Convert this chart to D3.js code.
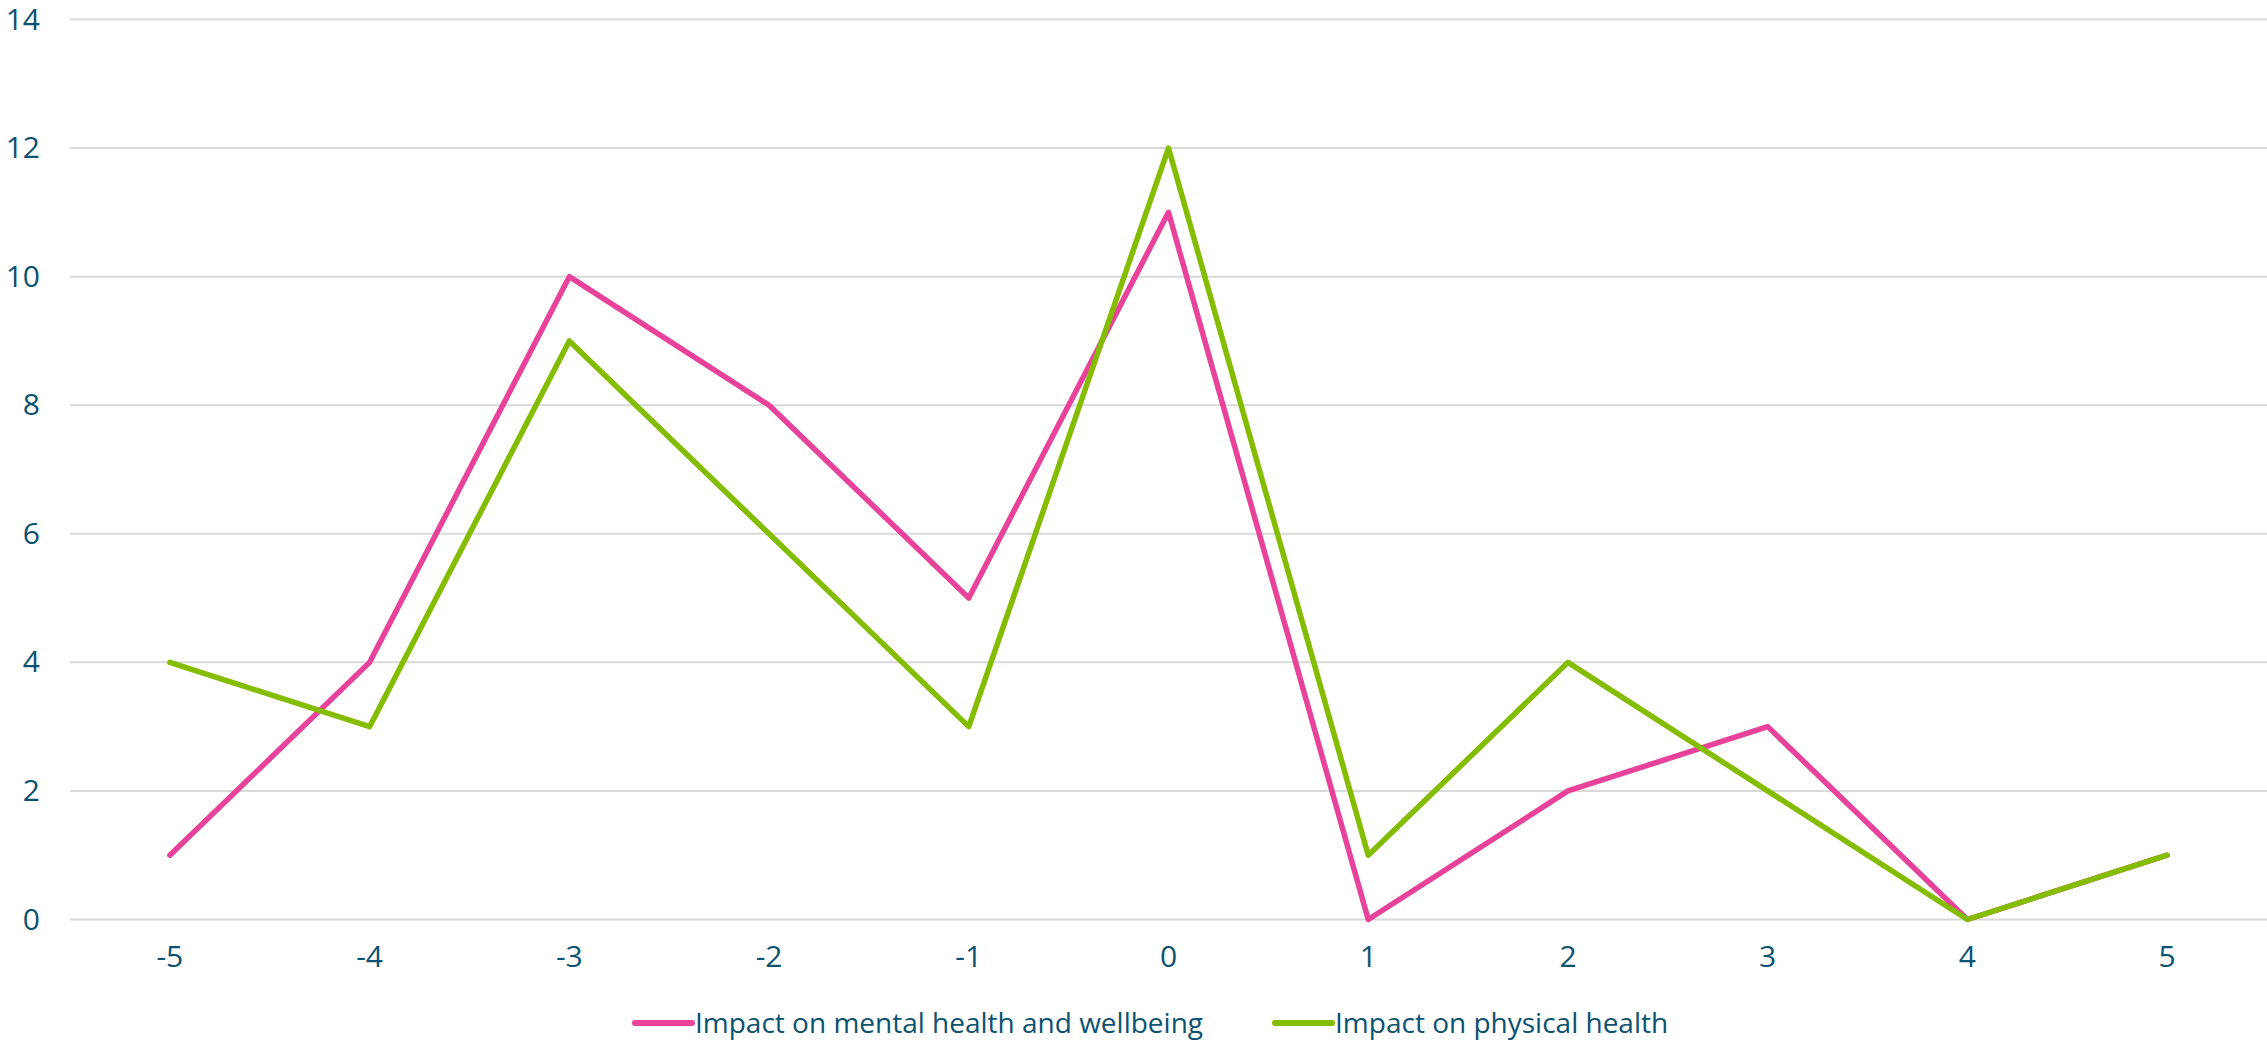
<!DOCTYPE html>
<html>
<head>
<meta charset="utf-8">
<script src="https://cdn.jsdelivr.net/npm/d3@7"></script>
<style>
  html, body { margin: 0; padding: 0; background: #ffffff; }
  svg { display: block; }
  text { font-family: "Open Sans", "Noto Sans", sans-serif; fill: #0d5270; }
</style>
</head>
<body>
<svg id="chart" width="2267" height="1045"></svg>
<script>
// Rating scale from -5 (very negative) to 5 (very positive)
const categories = ["-5", "-4", "-3", "-2", "-1", "0", "1", "2", "3", "4", "5"];
// Number of respondents giving each rating
const mentalHealth = [1, 4, 10, 8, 5, 11, 0, 2, 3, 0, 1];
const physicalHealth = [4, 3, 9, 6, 3, 12, 1, 4, 2, 0, 1];
const yTicks = [0, 2, 4, 6, 8, 10, 12, 14];

const series = [
  { name: "Impact on mental health and wellbeing", values: mentalHealth, color: "#e8429a" },
  { name: "Impact on physical health", values: physicalHealth, color: "#84bc00" }
];

const width = 2267, height = 1045;
const margin = { top: 19.5, right: 0, bottom: 125.5, left: 70 };

const svg = d3.select("#chart");

const x = d3.scaleBand()
  .domain(categories)
  .range([margin.left, width - margin.right]);

const y = d3.scaleLinear()
  .domain([0, 14])
  .range([height - margin.bottom, margin.top]);

// Horizontal gridlines
svg.append("g")
  .selectAll("line")
  .data(yTicks)
  .join("line")
  .attr("x1", margin.left)
  .attr("x2", width - margin.right)
  .attr("y1", d => y(d))
  .attr("y2", d => y(d))
  .attr("stroke", "#d9d9d9")
  .attr("stroke-width", 2);

// Y axis labels
const yAxis = svg.append("g")
  .attr("transform", `translate(${margin.left - 30},0)`)
  .call(d3.axisLeft(y).tickValues(yTicks).tickSize(0).tickPadding(0));
yAxis.select(".domain").remove();
yAxis.selectAll("text")
  .attr("font-size", 30)
  .attr("font-family", "'Open Sans', sans-serif")
  .attr("fill", "#0d5270");

// X axis labels
const xAxis = svg.append("g")
  .attr("transform", `translate(0,${y(0)})`)
  .call(d3.axisBottom(x).tickSize(0).tickPadding(26));
xAxis.select(".domain").remove();
xAxis.selectAll("text")
  .attr("font-size", 30)
  .attr("font-family", "'Open Sans', sans-serif")
  .attr("fill", "#0d5270");

// Series lines
const line = d3.line()
  .x((d, i) => x(categories[i]) + x.bandwidth() / 2)
  .y(d => y(d));

svg.append("g")
  .selectAll("path")
  .data(series)
  .join("path")
  .attr("d", d => line(d.values))
  .attr("fill", "none")
  .attr("stroke", d => d.color)
  .attr("stroke-width", 5.5)
  .attr("stroke-linejoin", "round")
  .attr("stroke-linecap", "round");

// Legend
const legend = svg.append("g").attr("transform", "translate(635,1023)");
let offset = 0;
series.forEach(s => {
  const item = legend.append("g").attr("transform", `translate(${offset},0)`);
  item.append("line")
    .attr("x1", 0).attr("x2", 57)
    .attr("y1", 0).attr("y2", 0)
    .attr("stroke", s.color)
    .attr("stroke-width", 6)
    .attr("stroke-linecap", "round");
  const t = item.append("text")
    .attr("x", 60)
    .attr("y", 10)
    .attr("font-size", 28)
    .text(s.name);
  offset += 60 + t.node().getComputedTextLength() + 72;
});
</script>
</body>
</html>
